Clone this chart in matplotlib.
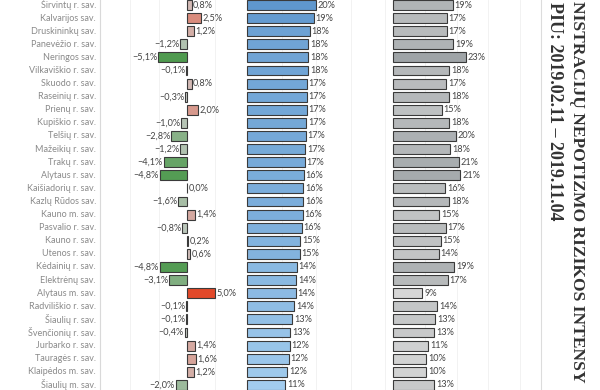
import matplotlib
matplotlib.use("Agg")
import matplotlib.pyplot as plt
import numpy as np
from matplotlib.colors import to_rgb

municipalities = [
    "Širvintų r. sav.", "Kalvarijos sav.", "Druskininkų sav.", "Panevėžio r. sav.",
    "Neringos sav.", "Vilkaviškio r. sav.", "Skuodo r. sav.", "Raseinių r. sav.",
    "Prienų r. sav.", "Kupiškio r. sav.", "Telšių r. sav.", "Mažeikių r. sav.",
    "Trakų r. sav.", "Alytaus r. sav.", "Kaišiadorių r. sav.", "Kazlų Rūdos sav.",
    "Kauno m. sav.", "Pasvalio r. sav.", "Kauno r. sav.", "Utenos r. sav.",
    "Kėdainių r. sav.", "Elektrėnų sav.", "Alytaus m. sav.", "Radviliškio r. sav.",
    "Šiaulių r. sav.", "Švenčionių r. sav.", "Jurbarko r. sav.", "Tauragės r. sav.",
    "Klaipėdos m. sav.", "Šiaulių m. sav.",
]
change = [0.8, 2.5, 1.2, -1.2, -5.1, -0.1, 0.8, -0.3, 2.0, -1.0, -2.8, -1.2,
          -4.1, -4.8, 0.0, -1.6, 1.4, -0.8, 0.2, 0.6, -4.8, -3.1, 5.0, -0.1,
          -0.1, -0.4, 1.4, 1.6, 1.2, -2.0]
current = [20.0, 19.3, 18.2, 17.8, 17.8, 17.8, 17.4, 17.4, 17.4, 17.2, 17.1, 16.9,
           16.8, 16.4, 16.3, 16.3, 16.1, 15.8, 15.4, 15.3, 14.4, 14.3, 14.1, 13.7,
           13.1, 12.6, 12.4, 12.1, 11.7, 11.1]
previous = [18.8, 16.9, 16.9, 19.0, 22.9, 17.6, 16.7, 17.6, 15.3, 17.7, 19.7, 17.9,
            20.7, 21.2, 16.4, 17.7, 14.6, 16.6, 15.0, 14.4, 19.2, 17.2, 9.2, 13.9,
            13.3, 13.0, 11.1, 10.4, 10.4, 13.0]
title_line1 = "NISTRACIJŲ NEPOTIZMO RIZIKOS INTENSY"
title_line2 = "PIU: 2019.02.11 – 2019.11.04"

W, H = 600, 390
fig = plt.figure(figsize=(6, 3.9), dpi=100)
fig.patch.set_facecolor("white")

n = len(municipalities)
row0, step = 5.0, 13.1
ytop = -row0 / step
ybot = (H - row0) / step


def px_axes(x0, x1):
    ax = fig.add_axes([x0 / W, 0, (x1 - x0) / W, 1])
    ax.set_ylim(ybot, ytop)
    ax.set_facecolor("none")
    for s in ax.spines.values():
        s.set_visible(False)
    ax.set_xticks([])
    ax.set_yticks([])
    return ax


def fmt(v):
    s = f"{abs(v):.1f}".replace(".", ",") + "%"
    if v < 0:
        s = "\u2212" + s
    return s


edge = "#3a3a3a"
bh = 0.76
lbl_font = dict(family="Lato", fontsize=6.6, color="#444444")

fig.add_artist(plt.Line2D([100 / W, 100 / W], [0, 1], color="#d9d9d9", lw=0.8))
fig.add_artist(plt.Line2D([541 / W, 541 / W], [0, 1], color="#dcdcdc", lw=0.8))

# row labels
axl = px_axes(0, 100)
axl.set_xlim(0, 100)
for i, m in enumerate(municipalities):
    axl.text(96, i, m, ha="right", va="center", family="Lato", fontsize=6.5,
             color="#8a8a8a")

# Panel 1: change
zero_px, ppu1 = 187, 5.65
ax1 = px_axes(100, 243)
ax1.set_xlim((100 - zero_px) / ppu1, (243 - zero_px) / ppu1)
for g in (-10, -5, 5):
    ax1.axvline(g, color="#f0f0f0", lw=0.6, zorder=0)
grey0 = np.array(to_rgb("#d0cfcf"))
green = np.array(to_rgb("#4f9a4f"))
red = np.array(to_rgb("#e2492a"))


def ccol(v):
    t = min(abs(v) / 5.0, 1.0)
    tgt = green if v < 0 else red
    return tuple(grey0 * (1 - t) + tgt * t)


for i, v in enumerate(change):
    ax1.barh(i, v, height=bh, color=ccol(v), edgecolor=edge, lw=0.8, zorder=2)
    if v < 0:
        ax1.text(v - 0.15, i, fmt(v), ha="right", va="center", **lbl_font)
    else:
        ax1.text(v + 0.25, i, fmt(v), ha="left", va="center", **lbl_font)

# Panel 2: blue
ax2 = px_axes(245, 390)
ppu2 = 3.45
ax2.set_xlim((245 - 247) / ppu2, (390 - 247) / ppu2)
for g in (10, 20, 30, 40):
    ax2.axvline(g, color="#f0f0f0", lw=0.6, zorder=0)
bl_dark = np.array(to_rgb("#5f97cd"))
bl_light = np.array(to_rgb("#a3cdee"))
for i, v in enumerate(current):
    t = np.clip((v - 11) / 9.0, 0, 1)
    c = tuple(bl_light * (1 - t) + bl_dark * t)
    ax2.barh(i, v, height=bh, color=c, edgecolor=edge, lw=0.8, zorder=2)
    ax2.text(v + 0.5, i, f"{round(v):d}%", ha="left", va="center", **lbl_font)

# Panel 3: grey
ax3 = px_axes(391, 541)
ppu3 = 3.18
ax3.set_xlim((391 - 393) / ppu3, (541 - 393) / ppu3)
for g in (10, 20, 30, 40):
    ax3.axvline(g, color="#f0f0f0", lw=0.6, zorder=0)
gr_dark = np.array(to_rgb("#9fa4a7"))
gr_light = np.array(to_rgb("#d8d8d8"))
for i, v in enumerate(previous):
    t = np.clip((v - 9) / 14.0, 0, 1)
    c = tuple(gr_light * (1 - t) + gr_dark * t)
    ax3.barh(i, v, height=bh, color=c, edgecolor=edge, lw=0.8, zorder=2)
    ax3.text(v + 0.6, i, f"{round(v):d}%", ha="left", va="center", **lbl_font)

# Title (rotated, reading top to bottom)
fig.text(573 / W, 1 - 1 / H, title_line1, rotation=-90, ha="left", va="baseline",
         family="Liberation Serif", fontweight="bold", fontsize=12.6,
         color="#333333", rotation_mode="anchor")
fig.text(550 / W, 1 - 2 / H, title_line2, rotation=-90, ha="left", va="baseline",
         family="Liberation Serif", fontweight="bold", fontsize=13,
         color="#333333", rotation_mode="anchor")

fig.savefig("out.png", dpi=100)
